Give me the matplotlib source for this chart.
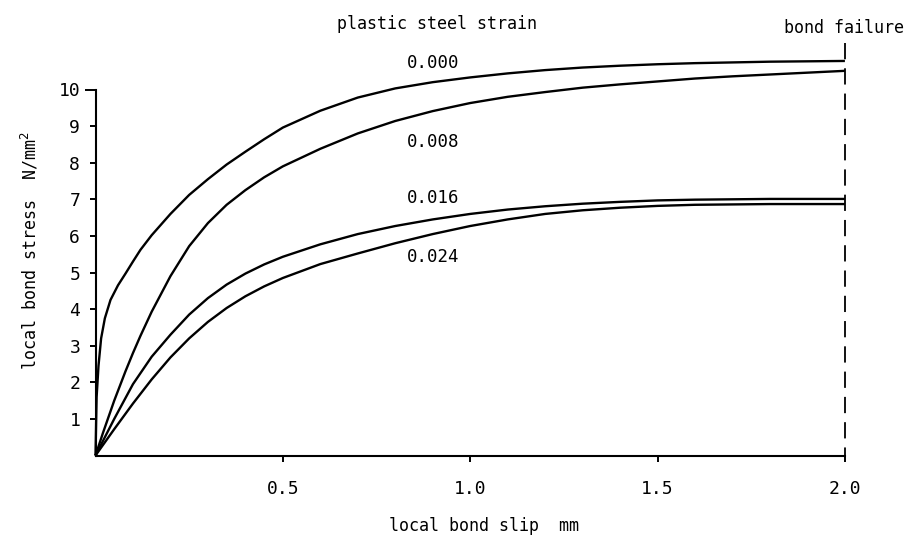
import matplotlib
matplotlib.use("Agg")
import matplotlib.pyplot as plt

# ---- data ----
slip_000 = [0, 0.003, 0.008, 0.015, 0.025, 0.04, 0.06, 0.08, 0.10, 0.12, 0.15, 0.20, 0.25,
            0.30, 0.35, 0.40, 0.45, 0.50, 0.60, 0.70, 0.80, 0.90, 1.00, 1.10, 1.20, 1.30,
            1.40, 1.50, 1.60, 1.70, 1.80, 1.90, 2.00]
stress_000 = [0, 1.6, 2.45, 3.2, 3.75, 4.25, 4.65, 4.97, 5.3, 5.62, 6.02, 6.6, 7.12,
              7.55, 7.95, 8.3, 8.64, 8.96, 9.42, 9.78, 10.03, 10.2, 10.33, 10.44, 10.53, 10.6,
              10.65, 10.69, 10.72, 10.74, 10.76, 10.77, 10.78]

slip_008 = [0, 0.02, 0.05, 0.08, 0.10, 0.12, 0.15, 0.20, 0.25, 0.30, 0.35, 0.40, 0.45,
            0.50, 0.60, 0.70, 0.80, 0.90, 1.00, 1.10, 1.20, 1.30, 1.40, 1.50, 1.60, 1.70,
            1.80, 1.90, 2.00]
stress_008 = [0, 0.62, 1.5, 2.3, 2.8, 3.27, 3.93, 4.9, 5.72, 6.35, 6.85, 7.25, 7.6,
              7.9, 8.38, 8.8, 9.14, 9.41, 9.63, 9.8, 9.93, 10.05, 10.14, 10.22, 10.3, 10.36,
              10.41, 10.46, 10.51]

slip_016 = [0, 0.05, 0.1, 0.15, 0.2, 0.25, 0.3, 0.35, 0.4, 0.45, 0.5, 0.6, 0.7, 0.8, 0.9,
            1.0, 1.1, 1.2, 1.3, 1.4, 1.5, 1.6, 1.7, 1.8, 1.9, 2.0]
stress_016 = [0, 1.0, 1.95, 2.7, 3.3, 3.85, 4.3, 4.67, 4.97, 5.22, 5.43, 5.77, 6.05, 6.27,
              6.45, 6.6, 6.72, 6.81, 6.88, 6.93, 6.97, 6.99, 7.0, 7.01, 7.01, 7.01]

slip_024 = [0, 0.05, 0.1, 0.15, 0.2, 0.25, 0.3, 0.35, 0.4, 0.45, 0.5, 0.6, 0.7, 0.8, 0.9,
            1.0, 1.1, 1.2, 1.3, 1.4, 1.5, 1.6, 1.7, 1.8, 1.9, 2.0]
stress_024 = [0, 0.72, 1.42, 2.08, 2.68, 3.2, 3.65, 4.03, 4.35, 4.62, 4.85, 5.23, 5.52, 5.8,
              6.05, 6.27, 6.45, 6.6, 6.7, 6.77, 6.82, 6.85, 6.86, 6.87, 6.87, 6.87]

strain_labels = ["0.000", "0.008", "0.016", "0.024"]
label_pos = [(0.90, 10.72), (0.90, 8.57), (0.90, 7.04), (0.90, 5.42)]

x_ticks = [0.5, 1.0, 1.5, 2.0]
x_ticklabels = ["0.5", "1.0", "1.5", "2.0"]
y_ticks = [1, 2, 3, 4, 5, 6, 7, 8, 9, 10]
failure_slip = 2.0

# ---- figure ----
FONT = ["DejaVu Sans Mono", "DejaVu Sans"]
plt.rcParams["font.family"] = FONT

fig = plt.figure(figsize=(9.07, 5.38), dpi=100)
ax = fig.add_axes([95.5 / 907, 82.5 / 538, 2.1 * 374.7 / 907, 12 * 36.6 / 538])
ax.set_xlim(0, 2.1)
ax.set_ylim(0, 12)

for xs, ys in [(slip_000, stress_000), (slip_008, stress_008),
               (slip_016, stress_016), (slip_024, stress_024)]:
    ax.plot(xs, ys, color="black", lw=1.7, solid_capstyle="butt",
            solid_joinstyle="round", clip_on=False)

# bond failure dashed line
ax.plot([failure_slip, failure_slip], [11.27, 0], color="black", lw=1.3,
        linestyle=(0, (9, 5)), clip_on=False)

for txt, (lx, ly) in zip(strain_labels, label_pos):
    ax.text(lx, ly, txt, ha="center", va="center", fontsize=12.5)

ax.text(0.911, 11.78, "plastic steel strain", ha="center", va="center", fontsize=12)
ax.text(1.998, 11.68, "bond failure", ha="center", va="center", fontsize=12,
        clip_on=False)

# spines
for s in ["top", "right"]:
    ax.spines[s].set_visible(False)
ax.spines["left"].set_bounds(0, 10)
ax.spines["bottom"].set_bounds(0, 2.0)
ax.spines["left"].set_linewidth(1.5)
ax.spines["bottom"].set_linewidth(1.5)

ax.set_xticks(x_ticks)
ax.set_xticklabels(x_ticklabels)
ax.set_yticks(y_ticks)
ax.set_yticklabels([str(v) for v in y_ticks])
ax.tick_params(axis="y", direction="out", length=4, width=1.4, pad=7, labelsize=13)
ax.tick_params(axis="x", direction="out", length=4, width=1.4, pad=14, labelsize=13)
ax.yaxis.get_major_ticks()[-1].tick1line.set_markersize(8)

fig.text(484 / 907, 1 - 526 / 538, "local bond slip  mm", ha="center", va="center",
         fontsize=12)
fig.text(30 / 907, 1 - 251 / 538, r"local bond stress  N/mm$^2$", ha="center",
         va="center", rotation=90, fontsize=12)

fig.savefig("out.png", dpi=100, facecolor="white")
